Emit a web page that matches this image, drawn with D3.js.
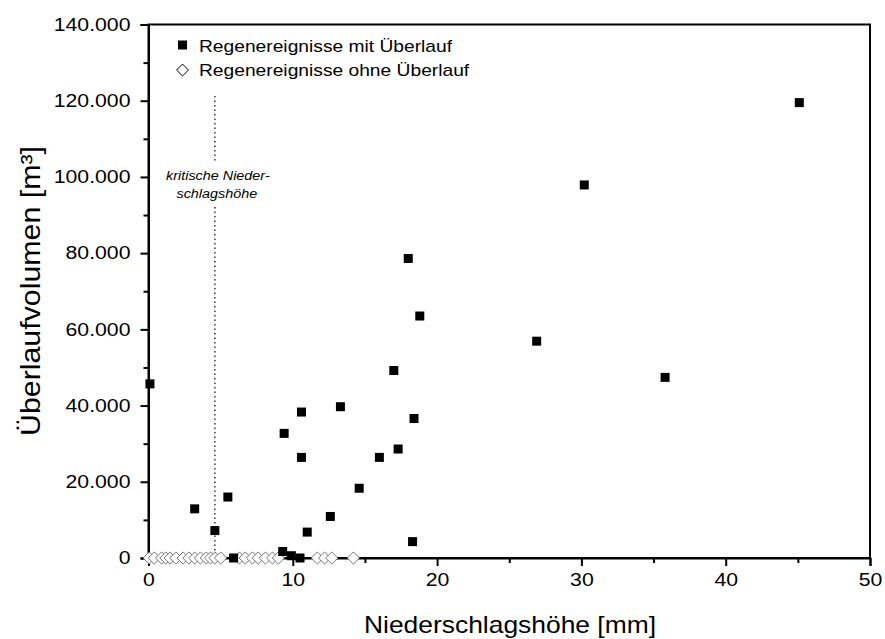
<!DOCTYPE html>
<html><head><meta charset="utf-8">
<script src="https://cdn.jsdelivr.net/npm/d3@7"></script>
<style>body{margin:0;background:#fff}svg{display:block}text{font-family:"Liberation Sans",Arial,sans-serif}</style>
</head><body><svg id="c" width="885" height="639"></svg>
<script>
// Regenereignisse mit Überlauf: [Niederschlagshöhe mm, Überlaufvolumen m³]
const mitX = [0.1, 3.2, 4.6, 5.5, 5.9, 9.3, 9.4, 9.9, 10.5, 10.6, 10.6, 11.0, 12.6, 13.3, 14.6, 16.0, 17.0, 17.3, 18.0, 18.3, 18.4, 18.8, 26.9, 30.2, 35.8, 45.1];
const mitY = [45700, 12900, 7200, 16000, 0, 1700, 32700, 600, 0, 38300, 26400, 6800, 10900, 39700, 18300, 26400, 49200, 28600, 78600, 4300, 36600, 63500, 56900, 97900, 47400, 119500];
// Regenereignisse ohne Überlauf (Volumen = 0)
const ohneX = [0.05, 0.4, 0.9, 1.2, 1.5, 1.9, 2.4, 2.8, 3.2, 3.6, 4.0, 4.3, 4.6, 5.0, 6.3, 6.7, 7.2, 7.6, 8.1, 8.6, 9.0, 11.7, 12.2, 12.7, 14.2];
const xTicks = [0, 10, 20, 30, 40, 50];
const yTicks = [0, 20000, 40000, 60000, 80000, 100000, 120000, 140000];
const kritisch = 4.6;

const svg = d3.select("#c");
const L = 148.5, R = 870, T = 24.5, B = 558;
const x = d3.scaleLinear().domain([0, 50]).range([L, R]);
const y = d3.scaleLinear().domain([0, 140000]).range([B, T]);
const fmt = v => v === 0 ? "0" : d3.format(",")(v).replace(/,/g, ".");
const stretch = (sel, k) => sel.each(function () {
  const w = this.getComputedTextLength();
  d3.select(this).attr("textLength", w * k).attr("lengthAdjust", "spacingAndGlyphs");
});

// frame
svg.append("rect").attr("x", L).attr("y", T).attr("width", R - L).attr("height", B - T)
  .attr("fill", "none").attr("stroke", "#000").attr("stroke-width", 2);

// axes
svg.append("g").attr("transform", `translate(0,${B})`)
  .call(d3.axisBottom(x).tickValues(xTicks).tickSize(8).tickPadding(7).tickFormat(d3.format("d")));
svg.append("g").attr("transform", `translate(0,${B})`)
  .call(d3.axisBottom(x).tickValues([5, 15, 25, 35, 45]).tickSize(5).tickFormat(""))
  .call(g => g.select(".domain").remove());
svg.append("g").attr("transform", `translate(${L},0)`)
  .call(d3.axisLeft(y).tickValues(yTicks).tickSize(8).tickPadding(10).tickFormat(fmt));
svg.append("g").attr("transform", `translate(${L},0)`)
  .call(d3.axisLeft(y).tickValues(d3.range(10000, 140000, 20000)).tickSize(5).tickFormat(""))
  .call(g => g.select(".domain").remove());
svg.selectAll(".tick line").attr("stroke-width", 2);
svg.selectAll(".domain").attr("stroke-width", 2);
svg.selectAll(".tick text").attr("font-size", 18).attr("fill", "#000")
  .style("font-family", "'Liberation Sans',Arial,sans-serif").call(stretch, 1.18);

// axis titles
svg.append("text").attr("x", 510).attr("y", 633).attr("text-anchor", "middle")
  .attr("font-size", 24).text("Niederschlagshöhe [mm]").call(stretch, 1.1);
svg.append("text").attr("transform", `translate(40,291) rotate(-90)`)
  .attr("text-anchor", "middle").attr("font-size", 27)
  .attr("textLength", 290).attr("lengthAdjust", "spacingAndGlyphs")
  .text("Überlaufvolumen [m³]");

// critical line
const kx = x(kritisch);
svg.append("line").attr("x1", kx).attr("x2", kx).attr("y1", 96).attr("y2", 162)
  .attr("stroke", "#000").attr("stroke-width", 1.2).attr("stroke-dasharray", "1.5,3");
svg.append("line").attr("x1", kx).attr("x2", kx).attr("y1", 207).attr("y2", B)
  .attr("stroke", "#000").attr("stroke-width", 1.2).attr("stroke-dasharray", "1.5,3");
svg.append("text").attr("x", kx + 3).attr("y", 180).attr("text-anchor", "middle")
  .attr("font-size", 12.5).attr("font-style", "italic").text("kritische Nieder-").call(stretch, 1.15);
svg.append("text").attr("x", kx + 2).attr("y", 198).attr("text-anchor", "middle")
  .attr("font-size", 12.5).attr("font-style", "italic").text("schlagshöhe").call(stretch, 1.15);

// diamonds
const dia = d3.symbol().type(d3.symbolDiamond2).size(95);
svg.append("g").selectAll("path").data(ohneX).join("path")
  .attr("d", dia).attr("transform", d => `translate(${x(d)},${y(0)})`)
  .attr("fill", "#fff").attr("stroke", "#666").attr("stroke-width", 0.9);

// squares
const sq = 9;
svg.append("g").selectAll("rect").data(mitX.map((d, i) => [d, mitY[i]])).join("rect")
  .attr("x", d => x(d[0]) - sq / 2).attr("y", d => y(d[1]) - sq / 2)
  .attr("width", sq).attr("height", sq).attr("fill", "#000");

// legend
svg.append("rect").attr("x", 178).attr("y", 40.5).attr("width", 9).attr("height", 9).attr("fill", "#000");
svg.append("text").attr("x", 199).attr("y", 51.5).attr("font-size", 17).text("Regenereignisse mit Überlauf").call(stretch, 1.13);
svg.append("path").attr("d", d3.symbol().type(d3.symbolDiamond2).size(90))
  .attr("transform", "translate(182.5,70)").attr("fill", "#fff").attr("stroke", "#000").attr("stroke-width", 1);
svg.append("text").attr("x", 199).attr("y", 76).attr("font-size", 17).text("Regenereignisse ohne Überlauf").call(stretch, 1.13);
</script></body></html>
